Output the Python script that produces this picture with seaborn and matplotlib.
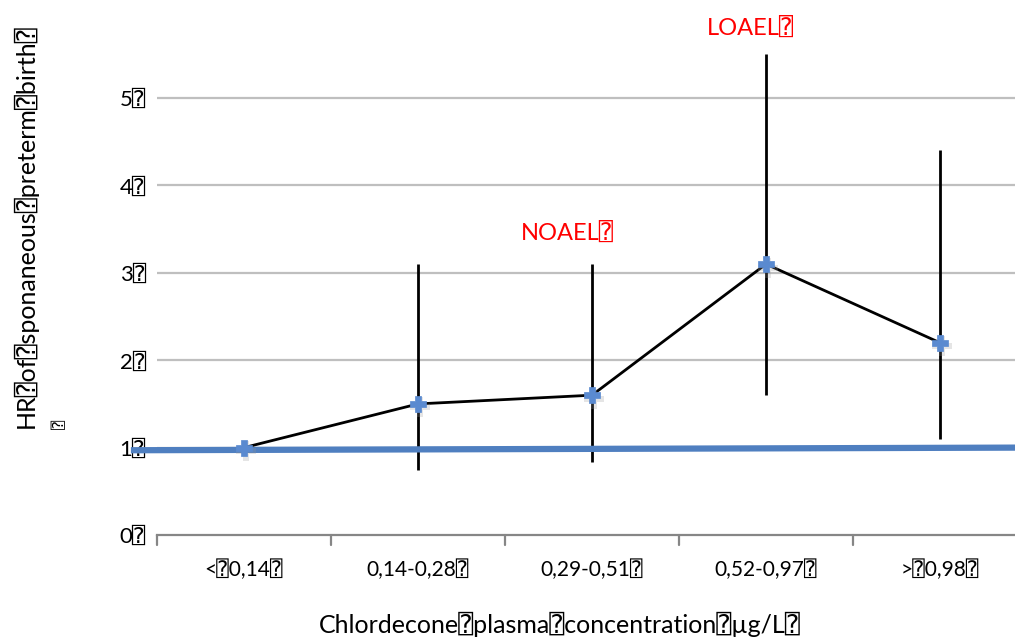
import matplotlib
matplotlib.use("Agg")
import matplotlib.pyplot as plt
import seaborn as sns
import pandas as pd

# Hazard ratios by chlordecone concentration class
categories = ["<⍰0,14⍰", "0,14-0,28⍰", "0,29-0,51⍰", "0,52-0,97⍰", ">⍰0,98⍰"]
hr = [1.0, 1.5, 1.6, 3.1, 2.2]
ci_low = [None, 0.74, 0.84, 1.6, 1.1]
ci_high = [None, 3.1, 3.1, 5.5, 4.4]
y_ticks = [0, 1, 2, 3, 4, 5]
y_tick_labels = ["0⍰", "1⍰", "2⍰", "3⍰", "4⍰", "5⍰"]
ref_line_y = [0.97, 1.0]

sns.set_theme(style="white")
plt.rcParams["font.family"] = ["Lato", "DejaVu Sans", "DejaVu Sans Mono"]
plt.rcParams["text.color"] = "black"

fig = plt.figure(figsize=(10.15, 6.38), dpi=100)
ax = fig.add_axes([157 / 1015, 103 / 638, 870 / 1015, 485 / 638])

df = pd.DataFrame({"pos": range(len(categories)), "hr": hr})

# horizontal gridlines
for t in y_ticks[1:]:
    ax.axhline(t, color="#bfbfbf", lw=1.6, zorder=0)

# confidence intervals
for i, (lo, hi) in enumerate(zip(ci_low, ci_high)):
    if lo is not None:
        ax.vlines(i, lo, hi, color="black", lw=2, zorder=2)

# reference line at HR = 1
ax.plot([-0.65, 4.45], ref_line_y, color="#4f7fc0", lw=4.5, zorder=3,
        clip_on=False, solid_capstyle="butt")

sns.lineplot(data=df, x="pos", y="hr", color="black", lw=2, ax=ax, zorder=4)
# soft shadow under the markers
ax.scatter(df["pos"] + 0.012, df["hr"] - 0.04, marker="P", s=190,
           color="#9a9a9a", alpha=0.25, linewidths=0, zorder=4.5)
sns.scatterplot(data=df, x="pos", y="hr", marker="P", s=140, color="#5a8ad0",
                edgecolor="#5a8ad0", linewidth=0.5, ax=ax, zorder=5)

ax.set_xlim(-0.5, 4.5)
ax.set_ylim(0, 5.55)
ax.set_yticks(y_ticks)
ax.set_yticklabels(y_tick_labels, fontsize=16, color="black")
ax.set_xticks(range(len(categories)))
ax.set_xticklabels(categories, fontsize=15, color="black")
ax.tick_params(axis="y", length=0, pad=8)
ax.tick_params(axis="x", length=0, pad=18)

for s in ["top", "right", "left"]:
    ax.spines[s].set_visible(False)
ax.spines["bottom"].set_color("#868686")
ax.spines["bottom"].set_linewidth(1.6)
# category boundary ticks
for b in [-0.5, 0.5, 1.5, 2.5, 3.5]:
    ax.plot([b, b], [0, -0.12], color="#868686", lw=1.6, clip_on=False)

ax.set_xlabel("")
ax.set_ylabel("")

ax.text(1.86, 3.46, "NOAEL⍰", color="red", fontsize=17, ha="center", va="center")
ax.text(2.91, 5.8, "LOAEL⍰", color="red", fontsize=17, ha="center", va="center")

fig.text(560 / 1015, 1 - 624 / 638, "Chlordecone⍰plasma⍰concentration⍰µg/L⍰",
         fontsize=18, ha="center", va="center")
fig.text(25 / 1015, 1 - 226 / 638, "HR⍰of⍰sponaneous⍰preterm⍰birth⍰",
         fontsize=18, ha="center", va="center", rotation=90)
fig.text(60 / 1015, 1 - 424 / 638, "⍰", fontsize=11, ha="center", va="center",
         rotation=90)

fig.savefig("out.png", dpi=100)
